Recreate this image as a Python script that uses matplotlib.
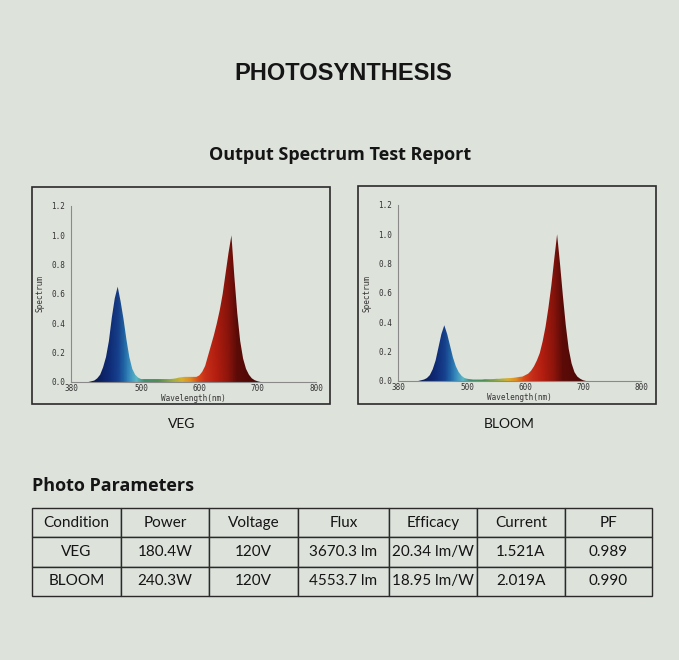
import numpy as np
import matplotlib
matplotlib.use("Agg")
import matplotlib.pyplot as plt
from matplotlib.colors import LinearSegmentedColormap
from matplotlib.patches import Polygon, Rectangle

# ---- data ----
wavelength = list(range(380, 805, 5))

veg_spectrum = [0, 0, 0, 0, 0, 0, 0, 0.005,            # 380-415
                0.01, 0.025, 0.05, 0.10, 0.17, 0.28, 0.44, 0.57,   # 420-455
                0.65, 0.55, 0.43, 0.29, 0.17, 0.09, 0.05, 0.03,    # 460-495
                0.02, 0.02, 0.02, 0.02, 0.02, 0.02, 0.02, 0.02,    # 500-535
                0.02, 0.02, 0.02, 0.022, 0.025, 0.03, 0.033, 0.035,  # 540-575
                0.035, 0.035, 0.035, 0.035, 0.045, 0.07, 0.11, 0.18,  # 580-615
                0.25, 0.32, 0.40, 0.49, 0.60, 0.74, 0.88, 1.00,    # 620-655
                0.72, 0.47, 0.28, 0.16, 0.09, 0.05, 0.025, 0.012,  # 660-695
                0.005, 0, 0, 0, 0, 0, 0, 0,                        # 700-735
                0, 0, 0, 0, 0, 0, 0, 0,                            # 740-775
                0, 0, 0, 0, 0]                                     # 780-800

bloom_spectrum = [0, 0, 0, 0, 0, 0, 0, 0,              # 380-415
                  0.005, 0.01, 0.02, 0.04, 0.08, 0.14, 0.23, 0.32,   # 420-455
                  0.38, 0.32, 0.24, 0.16, 0.10, 0.06, 0.035, 0.02,   # 460-495
                  0.015, 0.012, 0.01, 0.01, 0.01, 0.01, 0.012, 0.012,  # 500-535
                  0.012, 0.013, 0.015, 0.015, 0.017, 0.018, 0.02, 0.02,  # 540-575
                  0.022, 0.025, 0.028, 0.03, 0.04, 0.05, 0.07, 0.10,  # 580-615
                  0.14, 0.19, 0.27, 0.37, 0.50, 0.65, 0.83, 1.00,    # 620-655
                  0.80, 0.58, 0.38, 0.22, 0.12, 0.06, 0.03, 0.015,   # 660-695
                  0.005, 0, 0, 0, 0, 0, 0, 0,                        # 700-735
                  0, 0, 0, 0, 0, 0, 0, 0,                            # 740-775
                  0, 0, 0, 0, 0]                                     # 780-800

x_ticks = [380, 500, 600, 700, 800]
y_ticks = [0.0, 0.2, 0.4, 0.6, 0.8, 1.0, 1.2]

col_labels = ["Condition", "Power", "Voltage", "Flux", "Efficacy", "Current", "PF"]
row_veg = ["VEG", "180.4W", "120V", "3670.3 lm", "20.34 lm/W", "1.521A", "0.989"]
row_bloom = ["BLOOM", "240.3W", "120V", "4553.7 lm", "18.95 lm/W", "2.019A", "0.990"]
col_px = [89, 88, 89, 91, 88, 88, 87]

BG = "#dde2db"
INK = "#151515"
W, H = 679, 660

# wavelength -> fill colour
stops = [(380, "#0a1440"), (425, "#0b1d5a"), (445, "#0f2c78"), (460, "#17418f"),
         (470, "#2064a6"), (480, "#3a8fc0"), (492, "#5db8c4"), (505, "#3f8f70"),
         (530, "#4f9050"), (555, "#9fb040"), (570, "#d8b030"), (585, "#e08a20"),
         (598, "#d94a18"), (610, "#c8301a"), (630, "#b41e10"), (650, "#8e150c"),
         (665, "#5e0b08"), (700, "#4a0806"), (800, "#4a0806")]
cmap = LinearSegmentedColormap.from_list(
    "spec", [((w - 380) / 420, c) for w, c in stops])


def fig_rect(x0, y0, x1, y1):
    # pixel box (top-left origin) -> figure fraction [l, b, w, h]
    return [x0 / W, 1 - y1 / H, (x1 - x0) / W, (y1 - y0) / H]


def spectrum_panel(fig, box, frame, values, label, label_xy):
    fig.patches.append(Rectangle((frame[0] / W, 1 - frame[3] / H),
                                 (frame[2] - frame[0]) / W, (frame[3] - frame[1]) / H,
                                 transform=fig.transFigure, fill=False,
                                 edgecolor="#2a2a2a", linewidth=1.2))
    ax = fig.add_axes(fig_rect(*box))
    ax.set_facecolor(BG)
    ax.set_xlim(380, 800)
    ax.set_ylim(0, 1.2)

    grad = cmap(np.linspace(0, 1, 421))[None, :, :3].repeat(60, axis=0)
    shade = np.linspace(1.0, 0.85, 60)[:, None, None]
    im = ax.imshow(grad * shade, extent=[380, 800, 0, 1.2], origin="lower",
                   aspect="auto", zorder=2)
    wl = np.array(wavelength, dtype=float)
    sp = np.array(values)
    verts = np.column_stack([np.r_[wl, wl[::-1]], np.r_[sp, np.zeros_like(sp)]])
    patch = Polygon(verts, closed=True, transform=ax.transData,
                    facecolor="none", edgecolor="none")
    ax.add_patch(patch)
    im.set_clip_path(patch)

    for s in ["top", "right"]:
        ax.spines[s].set_visible(False)
    for s in ["left", "bottom"]:
        ax.spines[s].set_color("#8a8a8a")
        ax.spines[s].set_linewidth(0.8)
    ax.set_xticks(x_ticks)
    ax.set_yticks(y_ticks)
    ax.set_xticklabels([str(t) for t in x_ticks])
    ax.set_yticklabels([f"{t:.1f}" for t in y_ticks])
    ax.tick_params(axis="x", length=0, pad=1.5, labelsize=5.5, colors="#333333")
    ax.tick_params(axis="y", length=0, pad=4, labelsize=5.5, colors="#333333")
    for t in ax.get_xticklabels() + ax.get_yticklabels():
        t.set_family("DejaVu Sans Mono")
    ax.set_xlabel("Wavelength(nm)", fontsize=5.5, family="DejaVu Sans Mono",
                  color="#333333", labelpad=0.5)
    ax.set_ylabel("Spectrum", fontsize=5.5, family="DejaVu Sans Mono",
                  color="#333333", labelpad=5)
    fig.text(label_xy[0] / W, 1 - label_xy[1] / H, label, ha="center", va="center",
             fontsize=10, family="Lato", color=INK)


fig = plt.figure(figsize=(W / 100, H / 100), dpi=100, facecolor=BG)

fig.text(343 / W, 1 - 74 / H, "PHOTOSYNTHESIS", ha="center", va="center",
         fontsize=17, fontweight="bold", family="Liberation Sans", color=INK)
fig.text(340 / W, 1 - 155 / H, "Output Spectrum Test Report", ha="center",
         va="center", fontsize=13, fontweight="bold", family="Open Sans", color=INK)

spectrum_panel(fig, (71, 206, 316, 382), (32, 187, 330, 404), veg_spectrum,
               "VEG", (182, 424))
spectrum_panel(fig, (398, 205, 641, 381), (358, 186, 656, 404), bloom_spectrum,
               "BLOOM", (509, 424))

fig.text(32 / W, 1 - 486 / H, "Photo Parameters", ha="left", va="center",
         fontsize=13, fontweight="bold", family="Open Sans", color=INK)

tax = fig.add_axes(fig_rect(32, 508, 652, 596))
tax.axis("off")
tbl = tax.table(cellText=[row_veg, row_bloom], colLabels=col_labels,
                colWidths=[c / sum(col_px) for c in col_px],
                cellLoc="center", bbox=[0, 0, 1, 1])
tbl.auto_set_font_size(False)
for (r, c), cell in tbl.get_celld().items():
    cell.set_facecolor(BG)
    cell.set_edgecolor("#2a2a2a")
    cell.set_linewidth(1.0)
    cell.get_text().set_fontsize(11)
    cell.get_text().set_family("Lato")
    cell.get_text().set_color(INK)

fig.savefig("out.png", dpi=100, facecolor=BG)
